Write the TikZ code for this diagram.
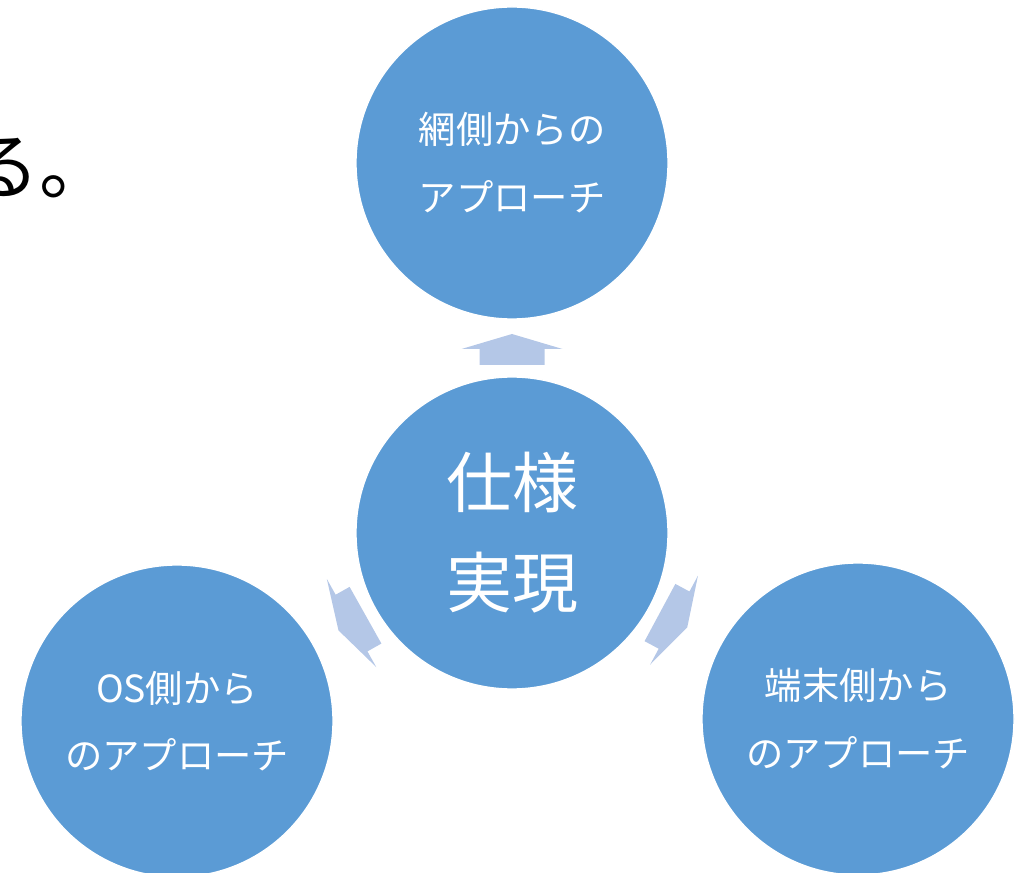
\documentclass[tikz,border=0pt]{standalone}
\usepackage{fontspec}
\setmainfont{Noto Sans CJK JP}
\usetikzlibrary{calc}
\definecolor{bubbleblue}{HTML}{5B9BD5}
\definecolor{spokeblue}{HTML}{B4C7E7}
\tikzset{
	bubble/.style={circle, fill=bubbleblue, draw=white, line width=1pt, minimum size=234pt, inner sep=0pt, text=white, align=center},
	spoke/.pic={\fill[spokeblue] (0,-32.5) -- (16,-32.5) -- (16,-50.5) -- (31,0) -- (16,50.5) -- (16,32.5) -- (0,32.5) -- cycle;}
}
\begin{document}
\begin{tikzpicture}[x=0.75pt, y=0.75pt]
	\useasboundingbox (0,0) rectangle (1017,872);
	%end of the cut-off sentence
	\node (tail) at (-34,678)[anchor=base west, inner sep=0pt, font=\fontsize{55}{66}\selectfont]{る。};
	
	%circles
	\node (spec) at (512,339)[bubble, font=\fontsize{49.5}{75}\selectfont]{仕様\\実現};
	\node (net) at (512,709)[bubble, font=\fontsize{28}{51}\selectfont]{網側からの\\アプローチ};
	\node (os) at (177,151)[bubble, font=\fontsize{28}{50}\selectfont]{OS側から\\のアプローチ};
	\node (term) at (858,153)[bubble, font=\fontsize{28}{51}\selectfont]{端末側から\\のアプローチ};
	
	%arrows out of the middle
	\foreach \tgt in {net, os, term}{
		\path let \p1 = ($(\tgt)-(spec)$), \n1 = {atan2(\y1,\x1)} in ($(spec)!126pt!(\tgt)$) pic[rotate=\n1]{spoke};
	}
\end{tikzpicture}
\end{document}
